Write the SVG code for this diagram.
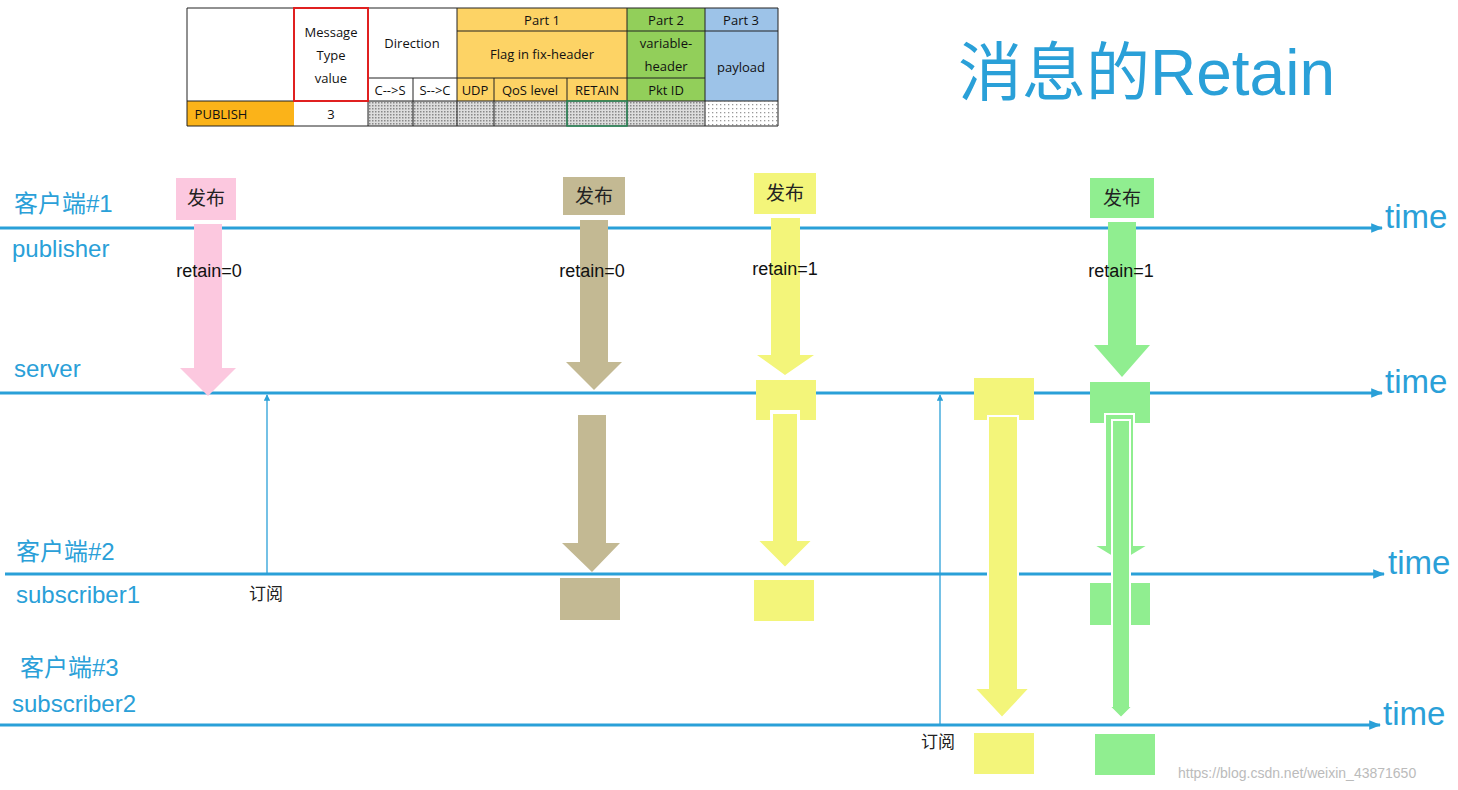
<svg xmlns="http://www.w3.org/2000/svg" width="1458" height="790" viewBox="0 0 1458 790">
<defs>
<style>
.t{font-family:"Liberation Sans","Noto Sans CJK SC",sans-serif}
.c{font-family:"Open Sans","Liberation Sans",sans-serif;font-size:13px;text-anchor:middle;fill:#111}
.lbl{font-family:"Liberation Sans","Noto Sans CJK SC",sans-serif;font-size:24px;fill:#2aa0d8}
.tm{font-family:"Liberation Sans",sans-serif;font-size:33px;fill:#2aa0d8}
.r{font-family:"Liberation Sans",sans-serif;font-size:18px;fill:#111;text-anchor:middle}
.pub{font-family:"Noto Sans CJK SC",sans-serif;font-size:19px;fill:#222;text-anchor:middle}
.line{stroke:#2aa0d8;stroke-width:3;fill:none}
.thin{stroke:#2aa0d8;stroke-width:1.3;fill:none}
.g{stroke:#222;stroke-width:1;fill:none}
.pk{fill:#fcc8df}.tn{fill:#c3b993}.yl{fill:#f3f57a}.gr{fill:#90ee90}
</style>
<marker id="ah" viewBox="0 0 10 10" refX="9" refY="5" markerWidth="5" markerHeight="5" orient="auto"><path d="M0,0L10,5L0,10z" fill="#2aa0d8"/></marker>
<marker id="ah2" viewBox="0 0 10 10" refX="9" refY="5" markerWidth="4" markerHeight="4" orient="auto"><path d="M0,1L10,5L0,9z" fill="#2aa0d8"/></marker>
<pattern id="dots" width="3" height="3" patternUnits="userSpaceOnUse"><rect width="3" height="3" fill="#ddd"/><rect width="1.5" height="1.5" fill="#888"/></pattern>
<pattern id="dots2" width="4" height="4" patternUnits="userSpaceOnUse"><rect width="4" height="4" fill="#fff"/><rect width="1.3" height="1.3" fill="#999"/></pattern>
</defs>
<rect width="1458" height="790" fill="#fff"/>

<g id="table">
<rect x="457" y="8" width="170" height="93" fill="#fdd365"/>
<rect x="627" y="8" width="78" height="93" fill="#92cf5a"/>
<rect x="705" y="8" width="73" height="93" fill="#9dc3e8"/>
<rect x="187" y="101" width="107" height="25" fill="#fbb319"/>
<rect x="368" y="101" width="337" height="25" fill="url(#dots)"/>
<rect x="705" y="101" width="73" height="25" fill="url(#dots2)"/>
<path class="g" d="M187,8H778V126H187Z M187,101H778 M457,31H778 M368,78H705 M368,78V126 M413,78V126 M457,8V126 M494,78V126 M567,78V126 M627,8V126 M705,8V126"/>
<rect x="294" y="8" width="74" height="93" fill="none" stroke="#e02020" stroke-width="2"/>
<rect x="567" y="101" width="60" height="25" fill="none" stroke="#2a8a5a" stroke-width="1.5"/>
<text class="c" x="331" y="37">Message</text><text class="c" x="331" y="60">Type</text><text class="c" x="331" y="83">value</text>
<text class="c" x="412" y="48">Direction</text>
<text class="c" x="542" y="25">Part 1</text><text class="c" x="542" y="59">Flag in fix-header</text>
<text class="c" x="666" y="25">Part 2</text><text class="c" x="666" y="48">variable-</text><text class="c" x="666" y="71">header</text>
<text class="c" x="741" y="25">Part 3</text><text class="c" x="741" y="72">payload</text>
<text class="c" x="390" y="95">C--&gt;S</text><text class="c" x="435" y="95">S--&gt;C</text><text class="c" x="475" y="95">UDP</text>
<text class="c" x="530" y="95">QoS level</text><text class="c" x="597" y="95">RETAIN</text><text class="c" x="666" y="95">Pkt ID</text>
<text class="c" x="221" y="119">PUBLISH</text><text class="c" x="331" y="119">3</text>
</g>

<text class="t" x="958" y="95" font-size="64" fill="#2aa0d8">消息的Retain</text>

<g id="connectors">
<line class="line" x1="0" y1="228" x2="1382" y2="228" marker-end="url(#ah2)"/>
<line class="line" x1="0" y1="393" x2="1382" y2="393" marker-end="url(#ah2)"/>
<line class="line" x1="5" y1="574" x2="1384" y2="574" marker-end="url(#ah2)"/>
<line class="line" x1="0" y1="725" x2="1380" y2="725" marker-end="url(#ah2)"/>
<line class="thin" x1="267" y1="574" x2="267" y2="395" marker-end="url(#ah)"/>
<line class="thin" x1="940" y1="725" x2="940" y2="395" marker-end="url(#ah)"/>
</g>

<g id="pink">
<rect class="pk" x="176" y="178" width="60" height="42"/><text class="pub" x="206" y="205">发布</text>
<path class="pk" d="M194,224H222V368H236L208,396L180,368H194Z"/>
</g>
<g id="tan">
<rect class="tn" x="563" y="177" width="62" height="38"/><text class="pub" x="594" y="203">发布</text>
<path class="tn" d="M580,220H608V362H622L594,390L566,362H580Z"/>
<path class="tn" d="M578,415H606V543H620L592,572L562,543H578Z"/>
<rect class="tn" x="560" y="578" width="60" height="42"/>
</g>
<g id="yellow1">
<rect class="yl" x="754" y="173" width="62" height="41"/><text class="pub" x="785" y="200">发布</text>
<path class="yl" d="M771,218H800V355H814L785,375L757,355H771Z"/>
<path class="yl" d="M756,380H816V420H800V410H770V420H756Z"/>
<path class="yl" d="M772,413H798V540H813L785,568L757,540H772Z" stroke="#fff" stroke-width="2"/>
<rect class="yl" x="754" y="580" width="60" height="41"/>
</g>
<g id="yellow2">
<rect class="yl" x="974" y="378" width="60" height="42"/>
<path class="yl" d="M988,416H1018V688H1030L1002,718L974,688H988Z" stroke="#fff" stroke-width="2"/>
<rect class="yl" x="974" y="733" width="60" height="41"/>
</g>
<g id="green">
<rect class="gr" x="1090" y="178" width="64" height="40"/><text class="pub" x="1122" y="205">发布</text>
<path class="gr" d="M1108,222H1136V345H1150L1122,377L1094,345H1108Z"/>
<rect class="gr" x="1090" y="382" width="60" height="41"/>
<path class="gr" d="M1105,414H1134V545H1149L1121,562L1093,545H1105Z" stroke="#fff" stroke-width="2"/>
<rect class="gr" x="1090" y="583" width="60" height="42"/>
<path class="gr" d="M1112,420H1130V706H1133L1121,718L1109,706H1112Z" stroke="#fff" stroke-width="2"/>
<rect class="gr" x="1095" y="734" width="60" height="41"/>
</g>

<g id="labels">
<text class="lbl" x="14" y="212">客户端#1</text>
<text class="lbl" x="12" y="257">publisher</text>
<text class="lbl" x="14" y="377">server</text>
<text class="lbl" x="16" y="560">客户端#2</text>
<text class="lbl" x="16" y="603">subscriber1</text>
<text class="lbl" x="20" y="676">客户端#3</text>
<text class="lbl" x="12" y="712">subscriber2</text>
<text class="tm" x="1385" y="228">time</text>
<text class="tm" x="1385" y="393">time</text>
<text class="tm" x="1388" y="574">time</text>
<text class="tm" x="1383" y="725">time</text>
<text class="t" x="266" y="600" font-size="17" text-anchor="middle" fill="#222">订阅</text>
<text class="t" x="938" y="748" font-size="17" text-anchor="middle" fill="#222">订阅</text>
<text class="r" x="209" y="277">retain=0</text>
<text class="r" x="592" y="277">retain=0</text>
<text class="r" x="785" y="275">retain=1</text>
<text class="r" x="1121" y="277">retain=1</text>
</g>
<text x="1178" y="778" font-family="Liberation Sans,sans-serif" font-size="14" fill="#bbb">https://blog.csdn.net/weixin_43871650</text>
</svg>
